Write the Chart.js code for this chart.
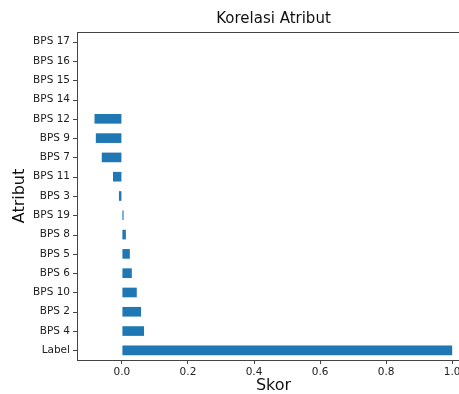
<!DOCTYPE html>
<html>
<head>
<meta charset="utf-8">
<script src="https://cdn.jsdelivr.net/npm/chart.js@4"></script>
<style>
  html, body { margin: 0; padding: 0; background: #fff; overflow: hidden; }
  canvas { display: block; }
</style>
</head>
<body>
<canvas id="corrChart" width="470" height="394"></canvas>
<script>
// attributes, top to bottom as in the picture
const attributes = ["BPS 17", "BPS 16", "BPS 15", "BPS 14", "BPS 12", "BPS 9", "BPS 7", "BPS 11",
  "BPS 3", "BPS 19", "BPS 8", "BPS 5", "BPS 6", "BPS 10", "BPS 2", "BPS 4", "Label"];
const scores = [null, null, null, null, -0.083, -0.079, -0.061, -0.027,
  -0.009, 0.005, 0.012, 0.024, 0.030, 0.045, 0.058, 0.067, 1.0];
const xTickValues = [0.0, 0.2, 0.4, 0.6, 0.8, 1.0];

const chartTitle = "Korelasi Atribut";
const xTitle = "Skor";
const yTitle = "Atribut";

const lineColor = '#444';
const textColor = '#222';

// title, axis titles, y tick marks and frame around the plot area
const framePlugin = {
  id: 'frame',
  afterDraw(chart) {
    const { ctx, chartArea: a } = chart;
    const yScale = chart.scales.y;
    ctx.save();
    ctx.strokeStyle = lineColor;
    ctx.lineWidth = 1;
    ctx.strokeRect(a.left + 0.5, a.top + 0.5, a.right - a.left - 1, a.bottom - a.top);

    ctx.beginPath();
    attributes.forEach((_, i) => {
      const y = Math.round(yScale.getPixelForValue(i)) + 0.5;
      ctx.moveTo(a.left - 4, y);
      ctx.lineTo(a.left, y);
    });
    ctx.stroke();

    ctx.fillStyle = '#111';
    ctx.textAlign = 'center';
    ctx.textBaseline = 'middle';
    const cx = (a.left + a.right) / 2;
    ctx.font = '15px "DejaVu Sans"';
    ctx.fillText(chartTitle, cx, 19);
    ctx.font = '16px "DejaVu Sans"';
    ctx.fillText(xTitle, cx, 386);
    ctx.translate(20, (a.top + a.bottom) / 2);
    ctx.rotate(-Math.PI / 2);
    ctx.fillText(yTitle, 0, 0);
    ctx.restore();
  }
};

const ctx = document.getElementById('corrChart').getContext('2d');
new Chart(ctx, {
  type: 'bar',
  data: {
    labels: attributes,
    datasets: [{
      data: scores,
      backgroundColor: '#1f77b4',
      borderWidth: 0,
      barPercentage: 0.5,
      categoryPercentage: 1.0
    }]
  },
  options: {
    indexAxis: 'y',
    responsive: false,
    animation: false,
    layout: { padding: { top: 32, left: 0, right: 0, bottom: 0 } },
    plugins: {
      legend: { display: false },
      tooltip: { enabled: false }
    },
    scales: {
      x: {
        type: 'linear',
        min: -0.136,
        max: 1.054,
        afterBuildTicks: s => { s.ticks = xTickValues.map(v => ({ value: v })); },
        afterFit: s => { s.height = 34; },
        grid: { drawOnChartArea: false, tickLength: 4, color: lineColor },
        border: { color: lineColor },
        ticks: {
          font: { family: 'DejaVu Sans', size: 10.5 },
          color: textColor,
          padding: 2,
          maxRotation: 0,
          callback: v => v.toFixed(1)
        }
      },
      y: {
        afterFit: s => { s.width = 77; },
        grid: { drawOnChartArea: false, drawTicks: false, tickLength: 4, color: lineColor },
        border: { color: lineColor },
        ticks: {
          font: { family: 'DejaVu Sans', size: 10.5 },
          color: textColor,
          padding: 7,
          autoSkip: false
        }
      }
    }
  },
  plugins: [framePlugin]
});
</script>
</body>
</html>
